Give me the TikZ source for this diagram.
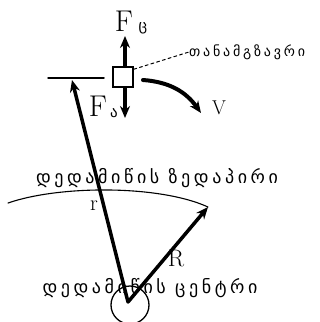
\documentclass[tikz,border=0pt]{standalone}
\usepackage{fontspec}
\usepackage{tikz}
\usetikzlibrary{arrows.meta}
\newfontfamily\geo[LetterSpace=20]{DejaVu Sans}
\newfontfamily\geowide[LetterSpace=20]{DejaVu Sans}

\begin{document}
\begin{tikzpicture}[x=1pt,y=-1pt,>={Stealth[length=12pt,width=10pt]},line cap=round,
  force/.style={line width=3.5pt,->},
  geolabel/.style={inner sep=0pt,font=\geo\fontsize{18}{18}\selectfont},
  letter/.style={inner sep=0pt,font=\fontsize{30}{30}\selectfont},
  sub/.style={inner sep=0pt,font=\geo\fontsize{15}{15}\selectfont}]
\useasboundingbox (0,0) rectangle (320,322);
% satellite and forces
\node[draw,line width=1.5pt,minimum size=20pt,inner sep=0pt] (sat) at (123,77) {};
\coordinate (up) at (125,36);
\coordinate (down) at (125,118);
\draw[force] (sat.north) ++(2,0) -- (up);
\draw[force] (sat.south) ++(2,0) -- (down);
\node[letter] (fc) at (124,21) {F};
\node[sub] (fcsub) at (143,28) {ც};
\node[letter] (fa) at (98,106) {F};
\node[sub] (fasub) at (114,113) {ა};
% satellite name
\node[inner sep=0pt,anchor=west,font=\geowide\fontsize{14}{14}\selectfont] (name) at (189,52) {თანამგზავრი};
\draw[dashed,line width=1pt] (sat.north east) ++(0,3) -- (name.west);
% velocity
\coordinate (v0) at (143,80);
\coordinate (v1) at (201,113);
\draw[line width=4pt,->] (v0) .. controls (170,82) and (186,92) .. (v1);
\node[inner sep=0pt,font=\fontsize{20}{20}\selectfont] (v) at (219,108) {V};
% orbit level
\coordinate (o1) at (48,78);
\coordinate (o2) at (104,78);
\coordinate (rtip) at (72,80);
\draw[line width=1.5pt] (o1) -- (o2);
% earth surface
\node[geolabel] (surf) at (157,178) {დედამიწის ზედაპირი};
\coordinate (s1) at (8,203);
\coordinate (s2) at (208,207);
\draw[line width=1.1pt] (s1) .. controls (60,185) and (160,185) .. (s2);
% earth centre
\node[geolabel] (ctr) at (150,288) {დედამიწის ცენტრი};
\coordinate (c) at (128,302);
\draw[line width=1.3pt] (130,305) circle (19);
\draw[force] (c) -- (rtip);
\draw[force] (c) -- (s2);
\node[inner sep=0pt,font=\fontsize{22}{22}\selectfont] (r) at (94,206) {r};
\node[inner sep=0pt,font=\fontsize{24}{24}\selectfont] (rr) at (176,258) {R};
\end{tikzpicture}
\end{document}
